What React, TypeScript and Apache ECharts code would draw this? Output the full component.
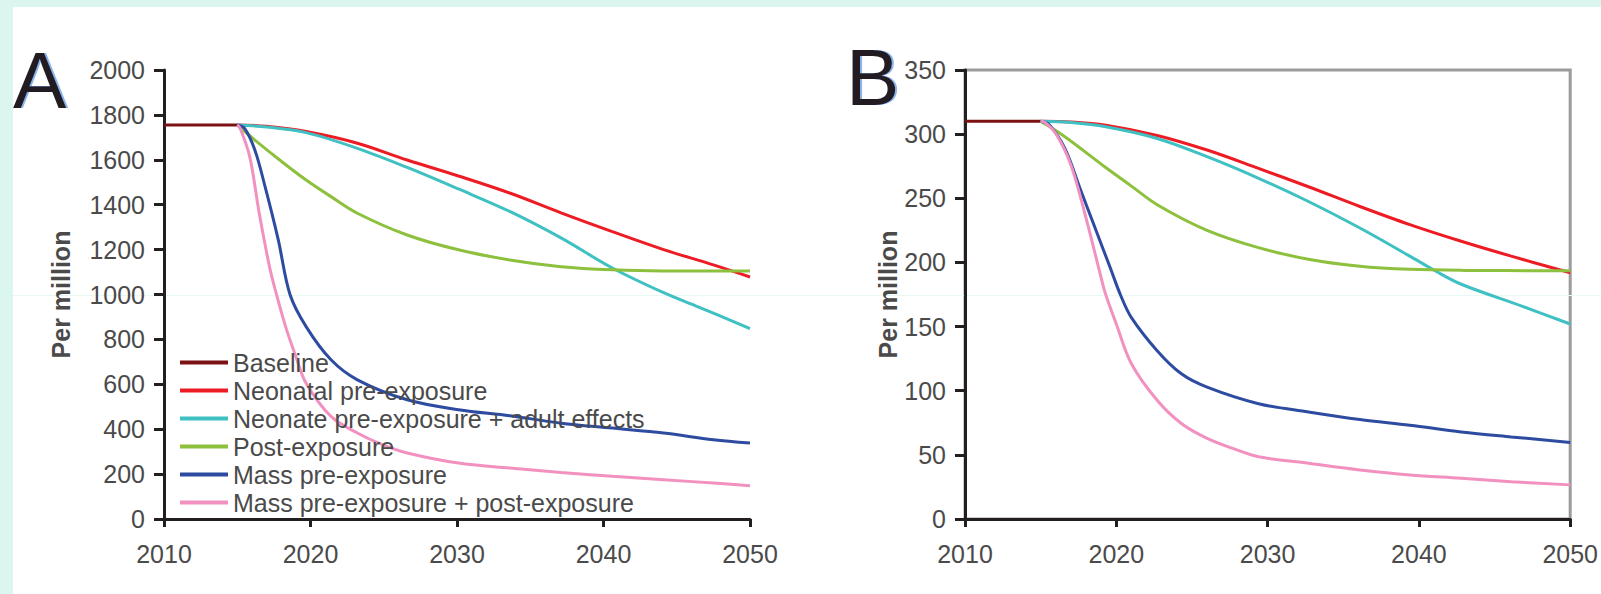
import React, { useEffect, useRef } from "react";
import * as echarts from "echarts";

const FONT = '"Liberation Sans", Arial, Helvetica, sans-serif';

const seriesNames = [
  "Baseline",
  "Neonatal pre-exposure",
  "Neonate pre-exposure + adult effects",
  "Post-exposure",
  "Mass pre-exposure",
  "Mass pre-exposure + post-exposure",
];
const seriesColors = ["#7b1113", "#ed1c24", "#3fc0c2", "#8dc03c", "#2d4ba0", "#f291c0"];

const xMin = 2010;
const xMax = 2050;
const xStep = 10;
const yMaxA = 2000;
const yStepA = 200;
const yMaxB = 350;
const yStepB = 50;

// Panel A (per million)
const baselineA = [[2010, 1755], [2015, 1755]];
const neonatalA = [[2015, 1755], [2017, 1749], [2019.7, 1726], [2023.2, 1674], [2026.6, 1599], [2030.1, 1528], [2033.6, 1452], [2037.1, 1364], [2040.6, 1280], [2044.1, 1200], [2047.5, 1132], [2050, 1078]];
const neonateAdultA = [[2015, 1755], [2017, 1746], [2019.7, 1721], [2023.2, 1651], [2026.6, 1566], [2030.1, 1470], [2033.6, 1370], [2037.1, 1252], [2040.6, 1118], [2044.1, 1008], [2046.5, 944], [2050, 848]];
const postA = [[2015, 1755], [2016.2, 1688], [2017.9, 1599], [2019.7, 1510], [2021.4, 1436], [2023.2, 1362], [2026.6, 1265], [2030.1, 1199], [2033.6, 1154], [2037.1, 1124], [2040.6, 1110], [2044, 1105], [2050, 1105]];
const massA = [[2015, 1755], [2015.5, 1740], [2016.2, 1644], [2016.9, 1480], [2017.8, 1243], [2018.6, 1000], [2019.7, 857], [2021.4, 709], [2023.2, 620], [2026.6, 531], [2030.1, 487], [2033.6, 460], [2037.1, 427], [2040.6, 405], [2044.1, 383], [2047.5, 353], [2050, 338]];
const massPostA = [[2015, 1755], [2015.2, 1740], [2015.85, 1614], [2016.5, 1362], [2017.2, 1124], [2017.6, 1019], [2018.3, 857], [2019.0, 724], [2019.7, 605], [2021.4, 457], [2023.2, 383], [2024.9, 331], [2026.6, 294], [2030.1, 249], [2033.6, 227], [2037.1, 207], [2040.6, 190], [2044.1, 175], [2047.5, 160], [2050, 148]];

// Panel B (per million)
const baselineB = [[2010, 310], [2015, 310]];
const neonatalB = [[2015, 310], [2017, 309.5], [2019.3, 307], [2022.7, 299], [2026.0, 287.6], [2029.4, 273.3], [2032.7, 259], [2036.1, 243.6], [2039.4, 229.5], [2042.8, 216.5], [2046.1, 204.9], [2050, 192]];
const neonateAdultB = [[2015, 310], [2017, 309], [2019.3, 305.7], [2022.7, 296.6], [2026.0, 282.4], [2029.4, 265.6], [2032.7, 247.5], [2036.1, 226.8], [2039.4, 204.9], [2041.1, 193.3], [2042.8, 183], [2046.8, 166], [2050, 152]];
const postB = [[2015, 310], [2016.6, 298], [2019.3, 274], [2021.0, 259.5], [2022.7, 245], [2026.0, 225], [2029.4, 211.5], [2032.7, 202.5], [2036.1, 197], [2039.4, 194.6], [2043, 193.8], [2050, 193.5]];
const massB = [[2015, 310], [2015.6, 307], [2016.6, 288.8], [2017.6, 257.8], [2018.6, 226.8], [2019.6, 195.8], [2020.3, 174], [2021.0, 157], [2022.7, 131.2], [2024.3, 113.2], [2026.0, 102.8], [2029.4, 89.9], [2032.7, 83.4], [2036.1, 77.5], [2039.4, 73.1], [2042.8, 67.9], [2046.1, 64], [2050, 59.7]];
const massPostB = [[2015, 310], [2015.3, 309], [2016, 300.5], [2017, 276], [2018, 234.6], [2019, 188], [2019.3, 175], [2020.0, 152], [2021.0, 121], [2022.7, 92.5], [2024.3, 74.4], [2026.0, 62.8], [2027.7, 55], [2029.4, 48.5], [2032.7, 43.4], [2036.1, 38.2], [2039.4, 34.3], [2042.8, 31.8], [2046.1, 29.1], [2050, 26.6]];

const dataA = [baselineA, neonatalA, neonateAdultA, postA, massA, massPostA];
const dataB = [baselineB, neonatalB, neonateAdultB, postB, massB, massPostB];

const AXIS_COLOR = "#231f20";
const LABEL_COLOR = "#4a4a4a";

const plain = (v: number) => String(v);

function makeXAxis(gridIndex: number) {
  return {
    type: "value",
    gridIndex,
    min: xMin,
    max: xMax,
    interval: xStep,
    axisLine: { show: true, onZero: false, lineStyle: { color: AXIS_COLOR, width: 3 } },
    axisTick: { show: true, length: 8, lineStyle: { color: AXIS_COLOR, width: 3 } },
    axisLabel: { fontSize: 25, color: LABEL_COLOR, fontFamily: FONT, margin: 22, formatter: plain },
    splitLine: { show: false },
  };
}

function makeYAxis(gridIndex: number, max: number, step: number, gap: number) {
  return {
    type: "value",
    gridIndex,
    min: 0,
    max,
    interval: step,
    name: "Per million",
    nameLocation: "middle",
    nameRotate: 90,
    nameGap: gap,
    nameTextStyle: { fontSize: 25, fontWeight: "bold", color: LABEL_COLOR, fontFamily: FONT },
    axisLine: { show: true, onZero: false, lineStyle: { color: AXIS_COLOR, width: 3 } },
    axisTick: { show: true, length: 10, lineStyle: { color: AXIS_COLOR, width: 3 } },
    axisLabel: { fontSize: 25, color: LABEL_COLOR, fontFamily: FONT, margin: 19, formatter: plain },
    splitLine: { show: false },
  };
}

function makeSeries(idx: number, data: number[][], gridIndex: number) {
  return {
    type: "line",
    name: seriesNames[idx],
    xAxisIndex: gridIndex,
    yAxisIndex: gridIndex,
    data,
    showSymbol: false,
    symbol: "none",
    smooth: 0.35,
    lineStyle: { color: seriesColors[idx], width: 3 },
    itemStyle: { color: seriesColors[idx] },
    emphasis: { disabled: true },
  };
}

function panelLetter(letter: string, x: number, y: number) {
  return {
    type: "text",
    x,
    y,
    silent: true,
    style: {
      text: letter,
      font: `80px ${FONT}`,
      verticalAlign: "middle",
      align: "left",
      fill: AXIS_COLOR,
      textShadowColor: "rgba(60,130,220,0.6)",
      textShadowOffsetX: 2,
      textShadowBlur: 1,
    },
  };
}

export default function App() {
  const ref = useRef<HTMLDivElement>(null);
  useEffect(() => {
    if (!ref.current) return;
    const chart = echarts.init(ref.current, null, { renderer: "svg" });
    const option = {
      animation: false,
      backgroundColor: "transparent",
      grid: [
        { left: 164, top: 70, width: 586, height: 449, show: false },
        { left: 965, top: 70, width: 609, height: 449, show: true, borderColor: "#9b9b9e", borderWidth: 3, backgroundColor: "transparent" },
      ],
      xAxis: [makeXAxis(0), makeXAxis(1)],
      yAxis: [makeYAxis(0, yMaxA, yStepA, 91), makeYAxis(1, yMaxB, yStepB, 63)],
      legend: {
        orient: "vertical",
        left: 180,
        top: 350,
        icon: "rect",
        itemWidth: 48,
        itemHeight: 4,
        itemGap: 3,
        padding: 0,
        selectedMode: false,
        data: seriesNames,
        textStyle: { fontSize: 25, color: LABEL_COLOR, fontFamily: FONT, padding: [0, 0, 0, 0] },
      },
      graphic: [
        { type: "line", silent: true, z: 0, shape: { x1: 13, y1: 295.5, x2: 1601, y2: 295.5 }, style: { stroke: "#e8f8f4", lineWidth: 1 } },
        panelLetter("A", 13, 80),
        panelLetter("B", 846, 77),
      ],
      series: [
        ...dataA.map((d, i) => makeSeries(i, d, 0)),
        ...dataB.map((d, i) => makeSeries(i, d, 1)),
      ],
    };
    chart.setOption(option as any);
    return () => chart.dispose();
  }, []);
  return (
    <div style={{ position: "fixed", left: 0, top: 0, width: 1601, height: 594, background: "#dbf5ef", overflow: "hidden" }}>
      <div style={{ position: "absolute", left: 13, top: 7, width: 1588, height: 587, background: "#ffffff" }} />
      <div ref={ref} style={{ position: "absolute", left: 0, top: 0, width: 1601, height: 594 }} />
    </div>
  );
}
